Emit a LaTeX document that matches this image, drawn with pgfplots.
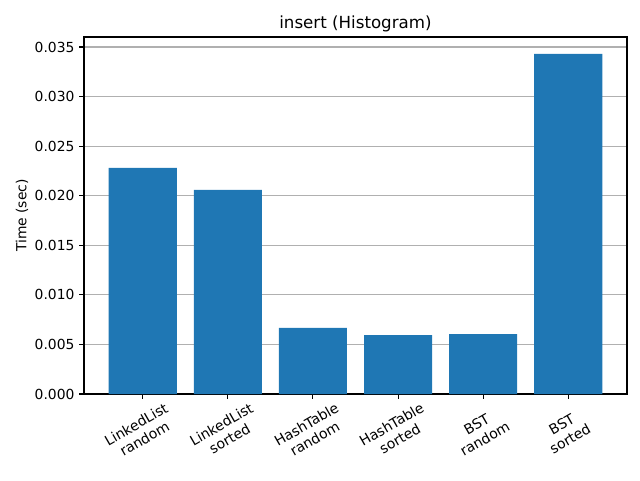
\documentclass[border=0pt]{standalone}
\usepackage{pgfplots}
\pgfplotsset{compat=1.18}
\usepackage{fontspec}
\setmainfont{DejaVu Sans}
\definecolor{mplblue}{RGB}{31,119,180}
\definecolor{mplgrid}{RGB}{176,176,176}
\begin{document}
\begin{tikzpicture}
\begin{axis}[
  scale only axis,
  width=407.25pt, height=267.75pt,
  xmin=-0.69, xmax=5.69,
  ymin=0, ymax=0.03601,
  ytick={0,0.005,0.01,0.015,0.02,0.025,0.03,0.035},
  scaled y ticks=false,
  yticklabel style={/pgf/number format/fixed,/pgf/number format/fixed zerofill,/pgf/number format/precision=3},
  /pgf/number format/assume math mode=true,
  xtick={0,1,2,3,4,5},
  xticklabels={{LinkedList\\random},{LinkedList\\sorted},{HashTable\\random},{HashTable\\sorted},{BST\\random},{BST\\sorted}},
  xticklabel style={yshift=-24.5pt, xshift=-1.8pt, rotate=30, align=center, anchor=center, font=\fontsize{10.5}{12.5}\selectfont},
  yticklabel style={font=\fontsize{10.4}{12}\selectfont},
  tick align=outside,
  major tick length=3.65pt,
  tick style={black, line width=0.83pt},
  axis line style={line width=0.83pt},
  xtick pos=bottom, ytick pos=left,
  ymajorgrids, grid style={mplgrid, line width=0.83pt},
  ylabel={Time (sec)},
  ylabel shift=-2pt,
  ylabel style={font=\fontsize{10.4}{12}\selectfont},
  title={insert (Histogram)},
  title style={font=\fontsize{12.5}{14}\selectfont, yshift=-5.7pt},
  axis on top=false,
]
\addplot[ybar, bar width=0.8, fill=mplblue, draw=none, bar shift=0pt] coordinates {
  (0,0.02280) (1,0.02058) (2,0.00666) (3,0.00595) (4,0.00605) (5,0.03430)
};
\end{axis}
\pgfresetboundingbox
\path (-63pt,-64.5pt) rectangle (417pt,295.5pt);
\end{tikzpicture}
\end{document}
